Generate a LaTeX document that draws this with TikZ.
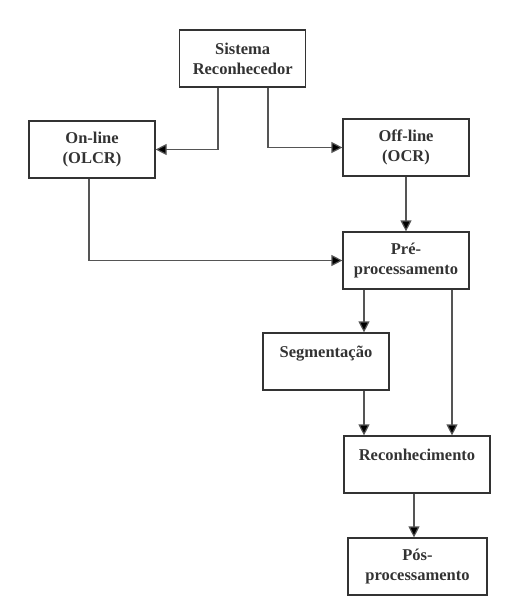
\documentclass[tikz,border=0pt]{standalone}
\usepackage{fontspec}
\setmainfont{Liberation Serif}
\usetikzlibrary{arrows.meta}
\definecolor{boxgray}{HTML}{333333}
\definecolor{linegray}{HTML}{555555}
\tikzset{
  stage/.style={draw=boxgray, line width=1.2pt, minimum width=126pt, minimum height=57pt,
    align=center, text=boxgray, font=\fontsize{16.5}{20}\selectfont\bfseries, inner sep=0pt},
  flow/.style={draw=linegray, line width=1.2pt, -{Triangle[length=11pt,width=11pt,fill=black]}}
}
\begin{document}
\begin{tikzpicture}[x=1pt,y=-1pt]
        \useasboundingbox (0,0) rectangle (507,611);

        \node[stage] (sistema) at (242.7,58.5) {Sistema\\Reconhecedor};
        \node[stage] (online) at (92,149.5) {On-line\\(OLCR)};
        \node[stage] (offline) at (406,147.5) {Off-line\\(OCR)};
        \node[stage] (pre) at (406,260.5) {Pré-\\processamento};
        \node[stage] (segm) at (326,361.5) {Segmentação\\\mbox{}};
        \node[stage, minimum width=146pt] (recon) at (417,464.5) {Reconhecimento\\\mbox{}};
        \node[stage, minimum width=139pt] (pos) at (417.5,566.5) {Pós-\\processamento};

        \draw[flow] ([xshift=-24.7pt]sistema.south) |- (online.east);
        \draw[flow] ([xshift=25.3pt]sistema.south) |- (offline.west);
        \draw[flow] (offline) -- (pre);
        \draw[flow] ([xshift=-3pt]online.south) |- (pre.west);
        \draw[flow] ([xshift=-42pt]pre.south) -- ([xshift=-42pt]pre.south |- segm.north);
        \draw[flow] ([xshift=46pt]pre.south) -- ([xshift=46pt]pre.south |- recon.north);
        \draw[flow] ([xshift=38pt]segm.south) -- ([xshift=38pt]segm.south |- recon.north);
        \draw[flow] ([xshift=-3pt]recon.south) -- ([xshift=-3pt]recon.south |- pos.north);
    \end{tikzpicture}
\end{document}
